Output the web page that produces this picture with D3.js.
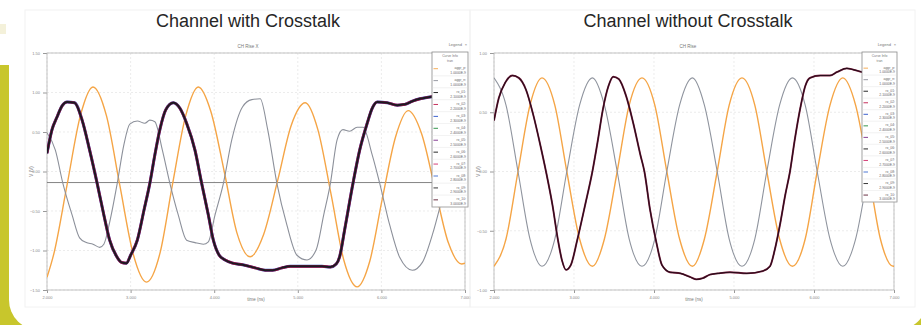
<!DOCTYPE html>
<html>
<head>
<meta charset="utf-8">
<script src="https://cdn.jsdelivr.net/npm/d3@7"></script>
<style>
  body { margin: 0; background: #fff; }
  svg { display: block; font-family: "Liberation Sans", Arial, sans-serif; }
</style>
</head>
<body>
<svg id="chart" width="921" height="325"></svg>
<script>
// ---- data (x in ns, y in V) ----
const titles = ['Channel with Crosstalk', 'Channel without Crosstalk'];
const subTitles = ['CH Rise X', 'CH Rise'];
const xTicks = [0, 1, 2, 3, 4, 5];
const xTickLabels = ['2.000', '3.000', '4.000', '5.000', '6.000', '7.000'];
const leftYTicks = [-1.5, -1, -0.5, 0, 0.5, 1, 1.5];
const rightYTicks = [-1, -0.5, 0, 0.5, 1];
const leftThreshold = -0.14;

const leftAggrA = [[0, -1.34], [0.08, -1.05], [0.24, -0.17], [0.40, 0.71], [0.55, 1.07], [0.71, 0.71],
  [0.87, -0.17], [1.03, -1.04], [1.19, -1.40], [1.35, -1.04], [1.50, -0.17], [1.66, 0.71], [1.81, 1.07],
  [1.96, 0.76], [2.12, 0.00], [2.27, -0.77], [2.43, -1.08], [2.59, -0.80], [2.76, -0.11], [2.92, 0.58],
  [3.09, 0.87], [3.24, 0.53], [3.40, -0.30], [3.55, -1.12], [3.71, -1.46], [3.86, -1.14], [4.01, -0.35],
  [4.17, 0.44], [4.32, 0.77], [4.48, 0.48], [4.64, -0.21], [4.80, -0.90], [4.96, -1.17], [5.00, -1.16]];

const leftAggrB = [[0, 0.49], [0.10, 0.27], [0.19, -0.15], [0.30, -0.55], [0.39, -0.84], [0.47, -0.90],
  [0.55, -0.92], [0.63, -0.96], [0.68, -0.92], [0.75, -0.64], [0.84, -0.15], [0.92, 0.34], [0.99, 0.60],
  [1.08, 0.64], [1.17, 0.61], [1.23, 0.65], [1.29, 0.63], [1.38, 0.27], [1.47, -0.15], [1.57, -0.55],
  [1.67, -0.87], [1.77, -0.90], [1.87, -0.92], [1.93, -0.89], [2.01, -0.55], [2.11, -0.15], [2.21, 0.40],
  [2.34, 0.82], [2.45, 0.91], [2.55, 0.92], [2.64, 0.53], [2.75, -0.15], [2.87, -0.68], [2.99, -1.06],
  [3.11, -1.12], [3.22, -0.99], [3.31, -0.55], [3.39, -0.15], [3.47, 0.40], [3.54, 0.53], [3.62, 0.51],
  [3.71, 0.56], [3.78, 0.56], [3.89, 0.21], [3.98, -0.15], [4.10, -0.68], [4.22, -1.09], [4.37, -1.25],
  [4.49, -1.15], [4.61, -0.80], [4.70, -0.45], [4.82, 0.08], [5.00, 0.53]];

const leftVictim = [[0, 0.23], [0.06, 0.53], [0.12, 0.69], [0.18, 0.83], [0.24, 0.88], [0.33, 0.87],
  [0.42, 0.65], [0.51, 0.27], [0.60, -0.15], [0.68, -0.55], [0.75, -0.87], [0.83, -1.07], [0.89, -1.15],
  [0.95, -1.16], [1.00, -1.06], [1.08, -0.87], [1.16, -0.49], [1.23, -0.15], [1.29, 0.21], [1.35, 0.53],
  [1.42, 0.78], [1.51, 0.87], [1.59, 0.80], [1.67, 0.61], [1.77, 0.27], [1.85, -0.15], [1.93, -0.55],
  [1.99, -0.87], [2.06, -1.06], [2.13, -1.12], [2.22, -1.16], [2.34, -1.18], [2.49, -1.22], [2.61, -1.25],
  [2.70, -1.25], [2.81, -1.22], [2.91, -1.20], [3.03, -1.20], [3.18, -1.20], [3.29, -1.20], [3.39, -1.21],
  [3.46, -1.17], [3.50, -1.08], [3.56, -0.74], [3.66, -0.15], [3.74, 0.27], [3.83, 0.61], [3.89, 0.80],
  [3.95, 0.88], [4.07, 0.87], [4.19, 0.84], [4.28, 0.85], [4.37, 0.89], [4.46, 0.92], [4.56, 0.94],
  [4.70, 0.96], [5.00, 0.98]];

const rightAggrA = [[0.00, -0.80], [0.15, -0.57], [0.30, 0.00], [0.45, 0.56], [0.60, 0.79], [0.76, 0.56],
  [0.91, 0.00], [1.07, -0.57], [1.23, -0.80], [1.38, -0.57], [1.54, 0.00], [1.69, 0.56], [1.85, 0.79],
  [2.01, 0.56], [2.16, 0.00], [2.32, -0.57], [2.48, -0.80], [2.63, -0.57], [2.79, 0.00], [2.94, 0.56],
  [3.10, 0.79], [3.26, 0.56], [3.41, 0.00], [3.57, -0.57], [3.73, -0.80], [3.89, -0.57], [4.04, 0.00],
  [4.20, 0.56], [4.36, 0.79], [4.52, 0.56], [4.68, 0.00], [4.83, -0.57], [4.99, -0.80], [5.00, -0.80]];

const rightAggrB = [[0.00, 0.79], [0.15, 0.56], [0.30, 0.00], [0.45, -0.57], [0.60, -0.80], [0.76, -0.57],
  [0.91, 0.00], [1.07, 0.56], [1.23, 0.79], [1.38, 0.56], [1.54, 0.00], [1.69, -0.57], [1.85, -0.80],
  [2.01, -0.57], [2.16, 0.00], [2.32, 0.56], [2.48, 0.79], [2.63, 0.56], [2.79, 0.00], [2.94, -0.57],
  [3.10, -0.80], [3.26, -0.57], [3.41, 0.00], [3.57, 0.56], [3.73, 0.79], [3.89, 0.56], [4.04, 0.00],
  [4.20, -0.57], [4.36, -0.80], [4.52, -0.57], [4.68, 0.00], [4.83, 0.56], [4.99, 0.79], [5.00, 0.79]];

const rightVictim = [[0.00, 0.43], [0.06, 0.62], [0.14, 0.75], [0.23, 0.81], [0.31, 0.79], [0.40, 0.69],
  [0.49, 0.48], [0.58, 0.22], [0.65, 0.00], [0.73, -0.28], [0.80, -0.58], [0.85, -0.75], [0.90, -0.83],
  [0.96, -0.79], [1.04, -0.58], [1.14, -0.28], [1.23, 0.00], [1.30, 0.27], [1.36, 0.52], [1.43, 0.72],
  [1.49, 0.80], [1.56, 0.78], [1.65, 0.64], [1.74, 0.41], [1.83, 0.14], [1.88, 0.00], [1.95, -0.32],
  [2.03, -0.60], [2.10, -0.79], [2.20, -0.85], [2.33, -0.86], [2.45, -0.89], [2.53, -0.91], [2.61, -0.90],
  [2.70, -0.87], [2.80, -0.86], [2.95, -0.85], [3.16, -0.86], [3.36, -0.84], [3.45, -0.80], [3.51, -0.66],
  [3.58, -0.43], [3.64, -0.20], [3.70, 0.00], [3.76, 0.27], [3.83, 0.54], [3.89, 0.72], [3.95, 0.79],
  [4.08, 0.81], [4.20, 0.81], [4.29, 0.84], [4.41, 0.87], [4.49, 0.86], [4.60, 0.84], [4.83, 0.82],
  [5.00, 0.82]];

const legendNames = ['aggr_p', 'aggr_n', 'rx_01', 'rx_02', 'rx_03', 'rx_04', 'rx_05', 'rx_06',
  'rx_07', 'rx_08', 'rx_09', 'rx_10'];
const legendValues = ['1.0000E-9', '1.0000E-9', '2.1000E-9', '2.2000E-9', '2.3000E-9', '2.4000E-9',
  '2.5000E-9', '2.6000E-9', '2.7000E-9', '2.8000E-9', '2.9000E-9', '3.0000E-9'];
const legendColors = ['#f5a546', '#8c909a', '#111', '#c0184a', '#2850c8', '#1f8a3a', '#7a2a8a',
  '#111', '#d02a6a', '#3a6ad0', '#222', '#5a1a30'];

// ---- drawing ----
const svg = d3.select('#chart');
const olive = '#c8c62c';

svg.append('rect').attr('width', 921).attr('height', 325).attr('fill', '#fff');
svg.append('rect').attr('x', 0).attr('y', 65).attr('width', 40).attr('height', 260).attr('fill', olive);
svg.append('rect').attr('x', 880).attr('y', 280).attr('width', 41).attr('height', 45).attr('fill', olive);
svg.append('rect').attr('x', 0).attr('y', 24).attr('width', 6).attr('height', 10).attr('fill', '#f4f1da');
svg.append('rect').attr('x', 9).attr('y', -40).attr('width', 918).attr('height', 370)
  .attr('rx', 30).attr('fill', '#fff');

const panels = [
  {
    title: titles[0], sub: subTitles[0], cx: 248, frame: [25, 10, 445, 297],
    xr: [47, 465], yd: [-1.5, 1.5], yTicks: leftYTicks, thr: leftThreshold,
    lines: [
      { data: leftAggrA, color: '#f5a546', w: 1.4 },
      { data: leftAggrB, color: '#8c909a', w: 1.1 },
      { data: leftVictim, color: '#2a55c0', w: 3.0 },
      { data: leftVictim, color: '#c0184a', w: 2.7 },
      { data: leftVictim, color: '#1a1a24', w: 2.0 }
    ],
    legend: [432, 52, 36, 155]
  },
  {
    title: titles[1], sub: subTitles[1], cx: 688, frame: [470, 10, 445, 297],
    xr: [494, 894], yd: [-1, 1], yTicks: rightYTicks, thr: null,
    lines: [
      { data: rightAggrA, color: '#f5a546', w: 1.4 },
      { data: rightAggrB, color: '#8f949e', w: 1.1 },
      { data: rightVictim, color: '#7a2040', w: 1.9 },
      { data: rightVictim, color: '#2a0c1a', w: 1.1 }
    ],
    legend: [862, 52, 35, 150]
  }
];

const y0 = 53, y1 = 290;

panels.forEach((p, pi) => {
  const g = svg.append('g');
  const x = d3.scaleLinear().domain([0, 5]).range(p.xr);
  const y = d3.scaleLinear().domain(p.yd).range([y1, y0]);

  g.append('rect').attr('x', p.frame[0]).attr('y', p.frame[1])
    .attr('width', p.frame[2]).attr('height', p.frame[3])
    .attr('fill', 'none').attr('stroke', '#f2f2f2');

  g.append('text').attr('x', p.cx).attr('y', 27).attr('text-anchor', 'middle')
    .attr('font-size', 18).attr('fill', '#262626').text(p.title);
  g.append('text').attr('x', p.cx).attr('y', 48).attr('text-anchor', 'middle')
    .attr('font-size', 4.5).attr('fill', '#777').text(p.sub);

  // grid
  g.selectAll('.gy').data(p.yTicks).join('line')
    .attr('x1', p.xr[0]).attr('x2', p.xr[1]).attr('y1', d => y(d)).attr('y2', d => y(d))
    .attr('stroke', '#e4e4e4').attr('stroke-width', 0.7).attr('stroke-dasharray', '2,2');
  g.selectAll('.gx').data(xTicks).join('line')
    .attr('y1', y0).attr('y2', y1).attr('x1', d => x(d)).attr('x2', d => x(d))
    .attr('stroke', '#e4e4e4').attr('stroke-width', 0.7).attr('stroke-dasharray', '2,2');

  // axes
  const ay = g.append('g').attr('transform', `translate(${p.xr[0]},0)`)
    .call(d3.axisLeft(y).tickValues(p.yTicks).tickSize(4).tickFormat(d3.format('.2f')));
  const ax = g.append('g').attr('transform', `translate(0,${y1})`)
    .call(d3.axisBottom(x).tickValues(xTicks).tickSize(3).tickFormat((d, i) => xTickLabels[i]));
  [ay, ax].forEach(a => {
    a.select('.domain').remove();
    a.selectAll('line').attr('stroke', '#999');
    a.selectAll('text').attr('font-size', 4).attr('fill', '#888');
  });
  g.append('text').attr('transform', `translate(${p.xr[0] - 14},${(y0 + y1) / 2}) rotate(-90)`)
    .attr('text-anchor', 'middle').attr('font-size', 4.5).attr('fill', '#777').text('V (V)');
  g.append('text').attr('x', (p.xr[0] + p.xr[1]) / 2).attr('y', y1 + 11).attr('text-anchor', 'middle')
    .attr('font-size', 4.5).attr('fill', '#777').text('time (ns)');

  // frame
  g.append('rect').attr('x', p.xr[0]).attr('y', y0).attr('width', p.xr[1] - p.xr[0]).attr('height', y1 - y0)
    .attr('fill', 'none').attr('stroke', '#b4b4b4').attr('stroke-width', 0.8);

  const clipId = 'clip' + pi;
  g.append('clipPath').attr('id', clipId).append('rect')
    .attr('x', p.xr[0]).attr('y', y0).attr('width', p.xr[1] - p.xr[0]).attr('height', y1 - y0);
  const plot = g.append('g').attr('clip-path', `url(#${clipId})`);

  if (p.thr !== null) {
    plot.append('line').attr('x1', p.xr[0]).attr('x2', p.xr[1])
      .attr('y1', y(p.thr)).attr('y2', y(p.thr)).attr('stroke', '#777').attr('stroke-width', 0.9);
  }

  const line = d3.line().x(d => x(d[0])).y(d => y(d[1])).curve(d3.curveMonotoneX);
  p.lines.forEach(s => {
    plot.append('path').datum(s.data).attr('d', line).attr('fill', 'none')
      .attr('stroke', s.color).attr('stroke-width', s.w).attr('stroke-linejoin', 'round');
  });

  // legend
  const [lx, ly, lw, lh] = p.legend;
  g.append('text').attr('x', lx + lw - 6).attr('y', ly - 6).attr('text-anchor', 'end')
    .attr('font-size', 4).attr('fill', '#777').text('Legend');
  g.append('text').attr('x', lx + lw - 1).attr('y', ly - 6).attr('text-anchor', 'end')
    .attr('font-size', 4).attr('fill', '#777').text('×');
  const lg = g.append('g');
  lg.append('rect').attr('x', lx).attr('y', ly).attr('width', lw).attr('height', lh)
    .attr('fill', '#fff').attr('stroke', '#8a8a8a').attr('stroke-width', 0.8);
  const rowH = lh / (legendNames.length + 1);
  lg.append('text').attr('x', lx + lw / 2).attr('y', ly + rowH * 0.45).attr('text-anchor', 'middle')
    .attr('font-size', 3.4).attr('fill', '#777').text('Curve Info');
  lg.append('text').attr('x', lx + lw / 2).attr('y', ly + rowH * 0.85).attr('text-anchor', 'middle')
    .attr('font-size', 3.4).attr('fill', '#777').text('tran');
  const rows = lg.selectAll('.row').data(legendNames).join('g')
    .attr('transform', (d, i) => `translate(${lx},${ly + rowH * (i + 1)})`);
  rows.append('line').attr('x1', 1.5).attr('x2', 6).attr('y1', rowH * 0.4).attr('y2', rowH * 0.4)
    .attr('stroke', (d, i) => legendColors[i]).attr('stroke-width', 0.9);
  rows.append('text').attr('x', lw - 2).attr('y', rowH * 0.45).attr('text-anchor', 'end')
    .attr('font-size', 3.4).attr('fill', '#666').text(d => d + ':');
  rows.append('text').attr('x', lw - 2).attr('y', rowH * 0.85).attr('text-anchor', 'end')
    .attr('font-size', 3.4).attr('fill', '#666').text((d, i) => legendValues[i]);
  rows.append('line').attr('x1', 0).attr('x2', lw).attr('y1', rowH).attr('y2', rowH)
    .attr('stroke', '#ddd').attr('stroke-width', 0.4);
});
</script>
</body>
</html>
